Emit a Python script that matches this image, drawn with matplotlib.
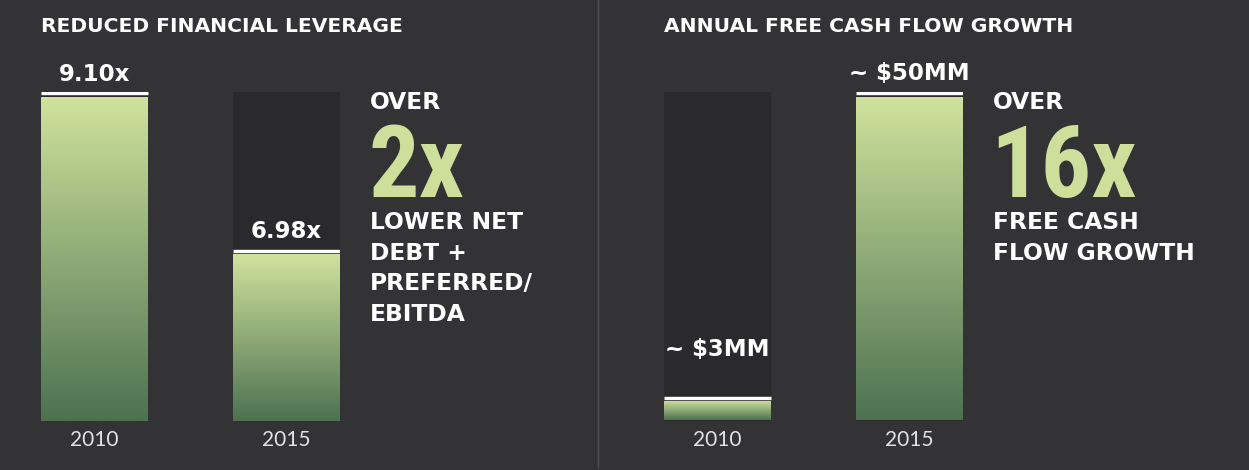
import numpy as np
import matplotlib
matplotlib.use("Agg")
import matplotlib.pyplot as plt
from matplotlib.colors import LinearSegmentedColormap
from matplotlib.transforms import offset_copy

# data
years = ["2010", "2015"]
leverage = [9.10, 6.98]
leverage_labels = ["9.10x", "6.98x"]
fcf = [3, 50]
fcf_labels = ["~ $3MM", "~ $50MM"]

BG = "#333335"
BAR_BG = "#2a2a2c"
LIGHT = "#cddf9a"
cmap = LinearSegmentedColormap.from_list("g", ["#4d7151", "#d0e39d"])

W, H = 1249, 470
fig = plt.figure(figsize=(W / 100, H / 100), dpi=100, facecolor=BG)


def fx(x):
    return x / W


def fy(y):
    return 1 - y / H


def panel(x0, vals, labels, ylim, label_off):
    ax = fig.add_axes([fx(x0), fy(420.5), 299 / W, 329 / H])
    ax.set_facecolor("none")
    w = 0.557
    xs = np.arange(len(vals))
    grad = np.linspace(1, 0, 256).reshape(-1, 1)
    hl = offset_copy(ax.transData, fig=fig, y=3.2, units="dots")
    for x, v, lab, off in zip(xs, vals, labels, label_off):
        ax.bar(x, ylim[1] - ylim[0], bottom=ylim[0], width=w, color=BAR_BG, zorder=1)
        b = ax.bar(x, v - ylim[0], bottom=ylim[0], width=w, color="none", zorder=2)[0]
        im = ax.imshow(grad, extent=(x - w / 2, x + w / 2, ylim[0], v), aspect="auto",
                       cmap=cmap, vmin=0, vmax=1, origin="upper", zorder=2)
        im.set_clip_path(b)
        ax.hlines(v, x - w / 2, x + w / 2, colors="white", lw=3.4 * 0.72,
                  transform=hl, zorder=3)
        ax.annotate(lab, (x, v), xytext=(0, off * 0.72), textcoords="offset points",
                    ha="center", va="baseline", color="white", fontsize=16.5,
                    fontweight="bold", family="DejaVu Sans")
        ax.annotate(years[x], (x, ylim[0]), xytext=(0, -25 * 0.72), textcoords="offset points",
                    ha="center", va="baseline", color="#e2e2e2", fontsize=15,
                    fontweight="normal", family=["Lato", "DejaVu Sans"], annotation_clip=False)
    ax.set_xlim(-w / 2, 1 + w / 2)
    ax.set_ylim(*ylim)
    ax.axis("off")
    return ax


panel(41, leverage, leverage_labels, (4.74, 9.17), [16, 16])
panel(664, fcf, fcf_labels, (0, 50.8), [45, 17])

# divider
fig.add_artist(plt.Line2D([fx(597.5)] * 2, [fy(467), 1], color="#515153", lw=1.0))

# titles
for x, t in [(41, "REDUCED FINANCIAL LEVERAGE"), (664, "ANNUAL FREE CASH FLOW GROWTH")]:
    fig.text(fx(x), fy(32.3), t, color="white", fontsize=14.6, fontweight="bold",
             family="DejaVu Sans", va="baseline")

# callouts
big = dict(color=LIGHT, fontsize=72, fontweight="bold",
           family=["Roboto Condensed", "Roboto", "DejaVu Sans"], va="baseline")
small = dict(color="white", fontsize=16.8, fontweight="bold", family="DejaVu Sans", va="baseline")

fig.text(fx(370), fy(109.3), "OVER", **small)
fig.text(fx(368), fy(196.7), "2x", **big)
for y, t in [(229, "LOWER NET"), (259.7, "DEBT +"), (290, "PREFERRED/"), (320.7, "EBITDA")]:
    fig.text(fx(370), fy(y), t, **small)

fig.text(fx(993), fy(109.3), "OVER", **small)
fig.text(fx(990), fy(196.7), "16x", **big)
for y, t in [(229, "FREE CASH"), (259.5, "FLOW GROWTH")]:
    fig.text(fx(993), fy(y), t, **small)

fig.savefig("out.png", dpi=100, facecolor=BG)
